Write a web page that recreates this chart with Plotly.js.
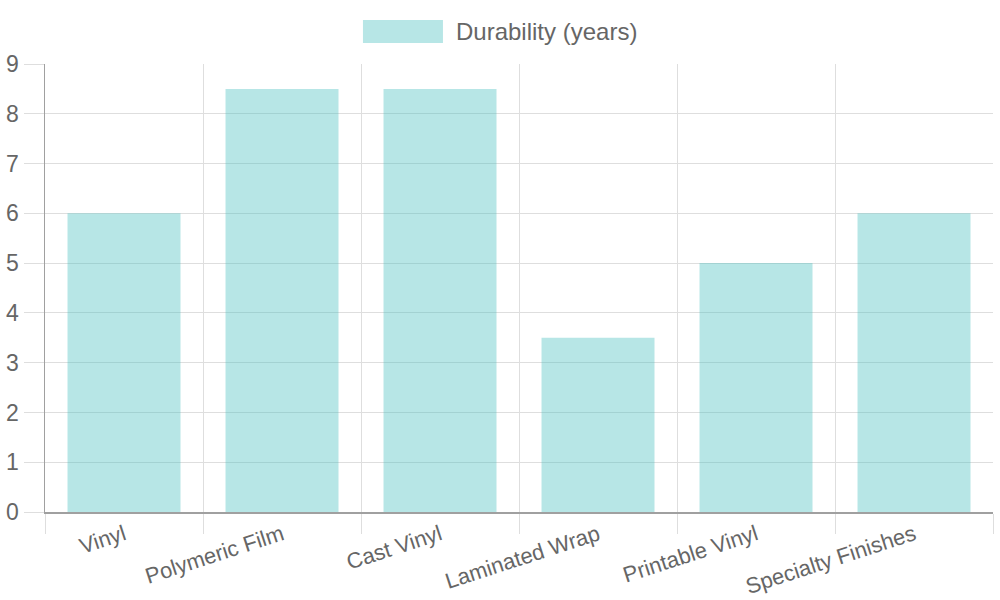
<!DOCTYPE html>
<html>
<head>
<meta charset="utf-8">
<script src="https://cdn.plot.ly/plotly-3.0.1.min.js"></script>
<style>
  html, body { margin: 0; padding: 0; background: #fff; }
  #chart { width: 1000px; height: 600px; }
</style>
</head>
<body>
<div id="chart"></div>
<script>
const categories = ["Vinyl", "Polymeric Film", "Cast Vinyl", "Laminated Wrap", "Printable Vinyl", "Specialty Finishes"];
const durability = [6, 8.5, 8.5, 3.5, 5, 6];
const seriesName = "Durability (years)";
const yTicks = [0, 1, 2, 3, 4, 5, 6, 7, 8, 9];

const barFill = "rgba(75,192,192,0.4)";
const textColor = "#666666";
const gridColor = "#dedede";
const axisColor = "#a0a0a0";
const fontFamily = "'Liberation Sans', Arial, Helvetica, sans-serif";

const trace = {
  type: "bar",
  x: categories,
  y: durability,
  name: seriesName,
  marker: { color: barFill, line: { width: 0 } },
  hoverinfo: "x+y"
};

const layout = {
  width: 1000,
  height: 600,
  margin: { l: 45, r: 7, t: 64, b: 88, pad: 0 },
  paper_bgcolor: "#ffffff",
  plot_bgcolor: "#ffffff",
  font: { family: fontFamily, size: 23, color: textColor },
  showlegend: false,
  bargap: 0.285,
  xaxis: {
    type: "category",
    tickson: "boundaries",
    ticks: "outside",
    ticklen: 20,
    tickwidth: 1,
    tickcolor: gridColor,
    showgrid: true,
    gridcolor: gridColor,
    gridwidth: 1,
    showline: true,
    linecolor: axisColor,
    linewidth: 1.5,
    tickangle: -18,
    tickfont: { family: fontFamily, size: 22, color: textColor },
    zeroline: false,
    fixedrange: true
  },
  yaxis: {
    range: [0, 9],
    tickvals: yTicks,
    ticktext: yTicks.map(String),
    ticks: "outside",
    ticklen: 20,
    tickwidth: 1,
    tickcolor: gridColor,
    showgrid: true,
    gridcolor: gridColor,
    gridwidth: 1,
    showline: true,
    linecolor: axisColor,
    linewidth: 1.5,
    zeroline: false,
    tickfont: { family: fontFamily, size: 23, color: textColor },
    fixedrange: true
  },
  shapes: [{
    type: "rect",
    xref: "paper", yref: "paper",
    x0: 0.3354, x1: 0.4198, y0: 1.0469, y1: 1.0982,
    fillcolor: barFill,
    line: { width: 0 }
  }],
  annotations: [{
    xref: "paper", yref: "paper",
    x: 0.4314, y: 1.0725,
    xanchor: "left", yanchor: "middle",
    text: seriesName,
    showarrow: false,
    font: { family: fontFamily, size: 24, color: textColor }
  }]
};

Plotly.newPlot("chart", [trace], layout, { displayModeBar: false, staticPlot: true });
</script>
</body>
</html>
